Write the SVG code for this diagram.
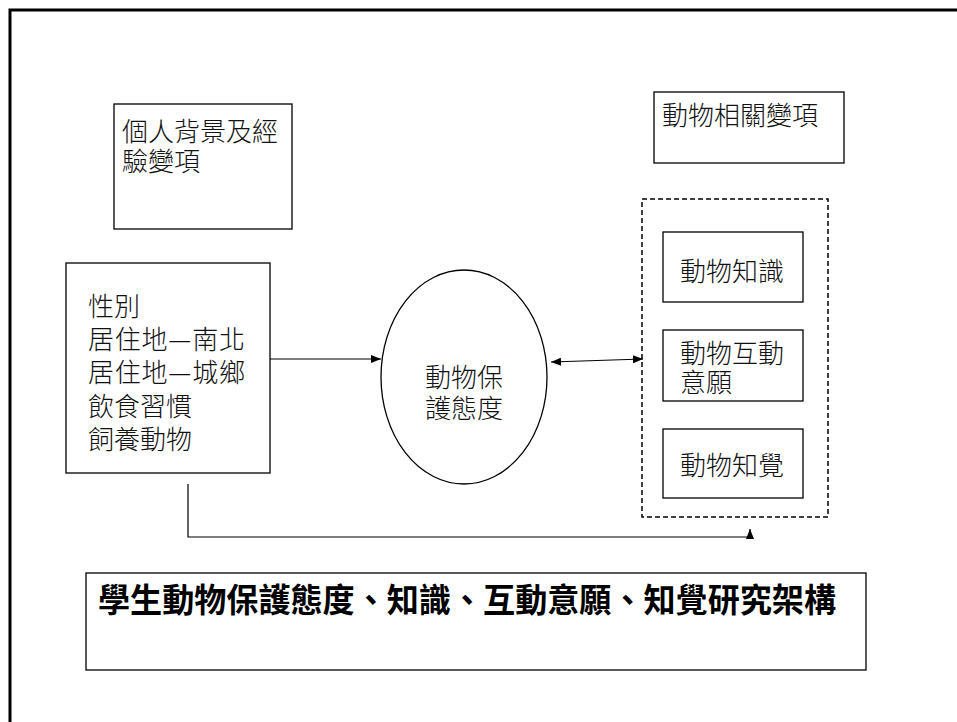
<svg xmlns="http://www.w3.org/2000/svg" width="957" height="722" viewBox="0 0 957 722">
<style>
.box{fill:#fff;stroke:#000;stroke-width:1.3}
.dash{fill:none;stroke:#000;stroke-width:1.5;stroke-dasharray:5 3}
.t{font-family:"Noto Sans CJK TC","Noto Sans CJK SC",sans-serif;font-size:26px;fill:#111;font-weight:300}
.title{font-family:"Noto Sans CJK TC","Noto Sans CJK SC",sans-serif;font-size:33px;fill:#000;font-weight:bold}
.line{fill:none;stroke:#000;stroke-width:1.2}
</style>
<defs>
<marker id="ah" viewBox="0 0 10 8" refX="10" refY="4" markerWidth="10" markerHeight="8" markerUnits="userSpaceOnUse" orient="auto-start-reverse">
<path d="M0,0 L10,4 L0,8 Z" fill="#000"/>
</marker>
</defs>
<rect width="957" height="722" fill="#fff"/>
<rect x="10" y="10" width="1000" height="800" fill="none" stroke="#000" stroke-width="3"/>
<g id="node-background">
<rect class="box" x="114" y="104" width="178" height="125"/>
<text class="t" x="122" y="141">個人背景及經</text>
<text class="t" x="122" y="171">驗變項</text>
</g>
<g id="node-variables">
<rect class="box" x="66" y="263" width="204" height="210"/>
<text class="t" x="88" y="316">性別</text>
<text class="t" x="88" y="349" textLength="157" lengthAdjust="spacing">居住地—南北</text>
<text class="t" x="88" y="382" textLength="157" lengthAdjust="spacing">居住地—城鄉</text>
<text class="t" x="88" y="416">飲食習慣</text>
<text class="t" x="88" y="449">飼養動物</text>
</g>
<g id="node-attitude">
<ellipse class="box" cx="464" cy="377" rx="83" ry="107"/>
<text class="t" x="464" y="387" text-anchor="middle">動物保</text>
<text class="t" x="464" y="418" text-anchor="middle">護態度</text>
</g>
<g id="node-animal-vars">
<rect class="box" x="654" y="92" width="190" height="71"/>
<text class="t" x="662" y="125">動物相關變項</text>
</g>
<g id="node-group">
<rect class="dash" x="642" y="199" width="186" height="318"/>
</g>
<g id="node-knowledge">
<rect class="box" x="663" y="232" width="140" height="70"/>
<text class="t" x="680" y="281">動物知識</text>
</g>
<g id="node-interaction">
<rect class="box" x="663" y="330" width="140" height="71"/>
<text class="t" x="680" y="363">動物互動</text>
<text class="t" x="680" y="392">意願</text>
</g>
<g id="node-perception">
<rect class="box" x="663" y="429" width="140" height="69"/>
<text class="t" x="680" y="475">動物知覺</text>
</g>
<g id="node-title">
<rect class="box" x="86" y="573" width="780" height="97"/>
<text class="title" x="98" y="612" textLength="738" lengthAdjust="spacingAndGlyphs">學生動物保護態度、知識、互動意願、知覺研究架構</text>
</g>
<g id="connectors">
<line class="line" x1="270" y1="359" x2="381" y2="359" marker-end="url(#ah)"/>
<line class="line" x1="551" y1="362" x2="643" y2="359" marker-start="url(#ah)" marker-end="url(#ah)"/>
<polyline class="line" points="188,484 188,537 750,537 750,529" marker-end="url(#ah)"/>
</g>
</svg>
